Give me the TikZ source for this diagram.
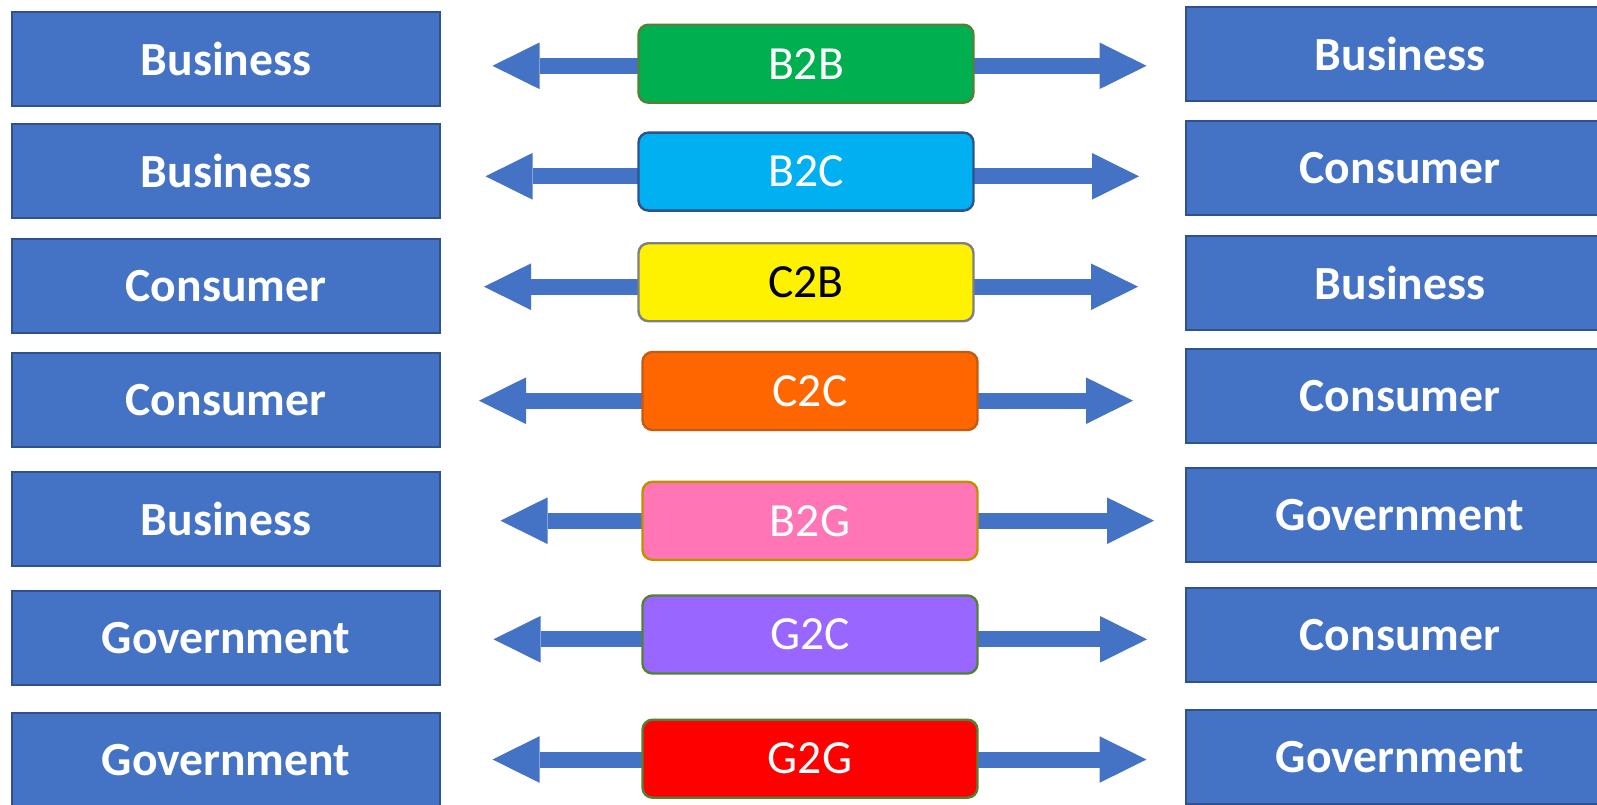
\documentclass[tikz,border=0pt]{standalone}
\usepackage{fontspec}
\setmainfont{Carlito}
\usetikzlibrary{arrows.meta}
\definecolor{partyblue}{HTML}{4472C4}
\definecolor{partyline}{HTML}{2F528F}
\definecolor{bbgreen}{HTML}{00B050}
\definecolor{bcblue}{HTML}{00B0F0}
\definecolor{ccorange}{HTML}{FF6600}
\definecolor{bgpink}{HTML}{FF75B6}
\definecolor{gcpurple}{HTML}{9966FF}
\definecolor{olive}{HTML}{548235}
\definecolor{rust}{HTML}{C55A11}
\definecolor{gold}{HTML}{BF9000}
\tikzset{
	party/.style={rectangle,fill=partyblue,draw=partyline,line width=0.75pt,minimum width=214pt,minimum height=47pt,inner sep=0pt,text=white,font=\fontsize{23.8}{28}\selectfont\bfseries},
	deal/.style 2 args={rectangle,rounded corners=5pt,fill=#1,draw=#2,line width=1.2pt,minimum width=167.5pt,minimum height=39pt,inner sep=0pt,text=white,font=\fontsize{23.8}{28}\selectfont},
	biarrow/.style={draw=partyblue,line width=8pt,{Triangle[length=23.5pt,width=23.3pt,line width=0pt]}-{Triangle[length=23.5pt,width=23.3pt,line width=0pt]}}
}
\begin{document}
\begin{tikzpicture}[x=0.5pt,y=-0.5pt]
	\clip (0,0) rectangle (1597,804);
	\fill[white] (0,0) rectangle (1597,804);

	% left side
	\node [party] (from1) at (226,59) {Business};
	\node [party] (from2) at (226,171) {Business};
	\node [party] (from3) at (226,286) {Consumer};
	\node [party] (from4) at (226,400) {Consumer};
	\node [party] (from5) at (226,519) {Business};
	\node [party] (from6) at (226,638) {Government};
	\node [party] (from7) at (226,760) {Government};

	% right side
	\node [party] (to1) at (1400,54) {Business};
	\node [party] (to2) at (1400,168) {Consumer};
	\node [party] (to3) at (1400,283) {Business};
	\node [party] (to4) at (1400,396) {Consumer};
	\node [party] (to5) at (1400,515) {Government};
	\node [party] (to6) at (1400,635) {Consumer};
	\node [party] (to7) at (1400,757) {Government};

	% arrow tips
	\coordinate (tl1) at (492.5,65.8);  \coordinate (tr1) at (1146.5,65.8);
	\coordinate (tl2) at (485.5,176.3); \coordinate (tr2) at (1139,176.3);
	\coordinate (tl3) at (484,286.7);   \coordinate (tr3) at (1138,286.7);
	\coordinate (tl4) at (479,400.7);   \coordinate (tr4) at (1133,400.7);
	\coordinate (tl5) at (500.5,520.7); \coordinate (tr5) at (1154,520.7);
	\coordinate (tl6) at (493.5,639.3); \coordinate (tr6) at (1147,639.3);
	\coordinate (tl7) at (492.5,759.5); \coordinate (tr7) at (1146.5,759.5);
	\foreach \n in {1,...,7}
		\draw [biarrow] (tl\n) -- (tr\n);

	% middle
	\node [deal={bbgreen}{olive}] (b2b) at (806,63.7) {B2B};
	\node [deal={bcblue}{partyline}] (b2c) at (806,171.6) {B2C};
	\node [deal={yellow}{gray},text=black] (c2b) at (806,282.2) {C2B};
	\node [deal={ccorange}{rust}] (c2c) at (810,391) {C2C};
	\node [deal={bgpink}{gold}] (b2g) at (810,520.8) {B2G};
	\node [deal={gcpurple}{olive}] (g2c) at (810,634.5) {G2C};
	\node [deal={red}{olive}] (g2g) at (810,758.7) {G2G};
\end{tikzpicture}
\end{document}
